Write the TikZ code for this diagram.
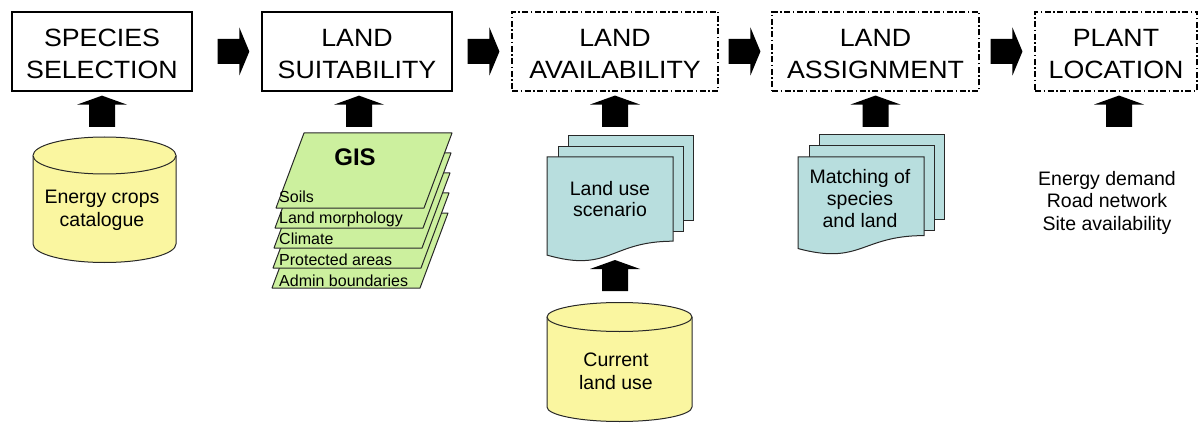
\documentclass[tikz,border=0pt]{standalone}
\usepackage{fontspec}
\setmainfont{Liberation Sans}
\newfontfamily\titlefont[FakeStretch=1.07]{Liberation Sans}
\usetikzlibrary{calc}

\definecolor{cylfill}{RGB}{250,246,160}
\definecolor{gisfill}{RGB}{204,240,158}
\definecolor{docfill}{RGB}{184,222,222}
\definecolor{shapeline}{RGB}{40,40,40}

% block arrow pointing up: #1 = bottom point, #2 = tip point (x of tip used)
\newcommand{\blkup}[2]{\fill[black] let \p1=#1, \p2=#2 in
  (\x2-13pt,\y1) -- (\x2+13pt,\y1) -- (\x2+13pt,\y2-9pt) -- (\x2+25pt,\y2-9pt)
  -- (\x2,\y2) -- (\x2-25pt,\y2-9pt) -- (\x2-13pt,\y2-9pt) -- cycle;}
% block arrow pointing right: #1 = start point, #2 = tip point
\newcommand{\blkright}[2]{\fill[black] let \p1=#1, \p2=#2 in
  (\x1,\y2+12.5pt) -- (\x2-10pt,\y2+12.5pt) -- (\x2-10pt,\y2+24pt) -- (\x2,\y2)
  -- (\x2-10pt,\y2-24pt) -- (\x2-10pt,\y2-12.5pt) -- (\x1,\y2-12.5pt) -- cycle;}
% cylinder: cx, top ellipse centre y, bottom ellipse centre y, rx, ry
\newcommand{\cylshape}[5]{%
  \filldraw[cylstyle] (#1-#4,#2) -- (#1-#4,#3)
    arc[start angle=180,end angle=360,x radius=#4pt,y radius=#5pt]
    -- (#1+#4,#2) arc[start angle=0,end angle=180,x radius=#4pt,y radius=#5pt] -- cycle;
  \draw[cylstyle] (#1-#4,#2) arc[start angle=180,end angle=360,x radius=#4pt,y radius=#5pt];}
% back page: x1, x2, ytop, ybottom
\newcommand{\docback}[4]{\filldraw[docstyle] (#1,#3) rectangle (#2,#4);}
% front page with wavy bottom: x1, x2, ytop, h
\newcommand{\docfront}[4]{\filldraw[docstyle] (#1,#3) -- (#2,#3) -- (#2,#3+0.802*#4)
  .. controls ({(#1+#2)/2},#3+0.802*#4) and ({(#1+#2)/2},#3+1.107*#4) .. (#1,#3+0.934*#4) -- cycle;}
% GIS layer shifted left by #1 and down by #2
\newcommand{\gislayer}[2]{\filldraw[gisstyle] (304-#1,133+#2) -- (452-#1,133+#2)
  -- (424-#1,208+#2) -- (276-#1,208+#2) -- cycle;}

\begin{document}
\begin{tikzpicture}[x=1pt,y=-1pt,
  titlebox/.style={draw=black, line width=1.3pt, minimum height=79, inner sep=0},
  dashbox/.style={titlebox, line width=1.1pt, dash pattern=on 6pt off 2.5pt on 1.5pt off 2.5pt},
  titletext/.style={font=\titlefont\fontsize{25}{32}\selectfont, align=center, anchor=north, inner sep=0},
  bodytext/.style={font=\fontsize{19.5}{23}\selectfont, align=center, anchor=north, inner sep=0},
  layertext/.style={font=\fontsize{16}{16}\selectfont, anchor=base west, inner sep=0},
  area/.style={inner sep=0, outer sep=0},
  cylstyle/.style={draw=shapeline, fill=cylfill, line width=1pt},
  docstyle/.style={draw=shapeline, fill=docfill, line width=1pt},
  gisstyle/.style={draw=shapeline, fill=gisfill, line width=1pt, line join=round},
]
\useasboundingbox (0,0) rectangle (1200,425);

% ---- top row boxes
\node[titlebox, minimum width=180] (b1) at (102,51.5) {};
\node[titlebox, minimum width=190] (b2) at (357,51.5) {};
\node[dashbox, minimum width=206] (b3) at (615,51.5) {};
\node[dashbox, minimum width=207] (b4) at (875.5,51.5) {};
\node[dashbox, minimum width=162] (b5) at (1116,51.5) {};
\node[titletext] (t1) at (102,29) {SPECIES\\SELECTION};
\node[titletext] (t2) at (357,29) {LAND\\SUITABILITY};
\node[titletext] (t3) at (615,29) {LAND\\AVAILABILITY};
\node[titletext] (t4) at (875.5,29) {LAND\\ASSIGNMENT};
\node[titletext] (t5) at (1116,29) {PLANT\\LOCATION};

% ---- cylinders
\cylshape{104.5}{155.5}{244}{71.5}{18.5}
\node[area, minimum width=143, minimum height=125] (c1) at (104.5,199.5) {};
\node[bodytext] (tc1) at (102,190) {Energy crops\\catalogue};

\cylshape{619.5}{317}{407}{72.5}{14.5}
\node[area, minimum width=145, minimum height=119] (c2) at (619.5,362) {};
\node[bodytext] (tc2) at (616,353) {Current\\land use};

% ---- GIS layers
\gislayer{4}{80}
\gislayer{3}{60}
\gislayer{2}{40}
\gislayer{1}{20}
\gislayer{0}{0}
\node[area, minimum width=180, minimum height=155] (g1) at (362,210.5) {};
\node[font=\bfseries\fontsize{24}{24}\selectfont, anchor=base, inner sep=0] (gis) at (355,165.5) {GIS};
\node[layertext] (l1) at (279,203) {Soils};
\node[layertext] (l2) at (279,223) {Land morphology};
\node[layertext] (l3) at (279,244) {Climate};
\node[layertext] (l4) at (279,265) {Protected areas};
\node[layertext] (l5) at (279,286) {Admin boundaries};

% ---- document stacks
\docback{568}{693}{136}{220}
\docback{558}{683}{147}{231}
\docfront{547}{673}{157}{105}
\node[area, minimum width=146, minimum height=127] (d1) at (620,199.5) {};
\node[bodytext, font=\fontsize{19.5}{21}\selectfont] (td1) at (610,181) {Land use\\scenario};

\docback{819}{944}{135}{219}
\docback{809}{934}{146}{230}
\docfront{798}{924}{157}{98}
\node[area, minimum width=146, minimum height=120] (d2) at (871,195) {};
\node[bodytext, font=\fontsize{19.5}{22}\selectfont] (td2) at (860,169) {Matching of\\species\\and land};

% ---- plant location inputs
\node[bodytext, font=\fontsize{19.5}{22.5}\selectfont] (p5) at (1107,171) {Energy demand\\Road network\\Site availability};

% ---- block arrows (right)
\blkright{($(b1.east)+(25,0)$)}{($(b2.west)+(-12,0)$)}
\blkright{($(b2.east)+(15,0)$)}{($(b3.west)+(-12,0)$)}
\blkright{($(b3.east)+(10,0)$)}{($(b4.west)+(-11,0)$)}
\blkright{($(b4.east)+(11,0)$)}{($(b5.west)+(-12,0)$)}

% ---- block arrows (up)
\blkup{($(c1.north)+(0,-10)$)}{($(b1.south)+(0,4)$)}
\blkup{($(g1.north)+(0,-6)$)}{($(b2.south)+(2,4)$)}
\blkup{($(d1.north)+(0,-9)$)}{($(b3.south)+(0,4)$)}
\blkup{($(c2.north)+(0,-11.5)$)}{($(d1.south)+(-5,-3)$)}
\blkup{($(d2.north)+(0,-8)$)}{($(b4.south)+(0,4)$)}
\blkup{($(p5.north)+(0,-44)$)}{($(b5.south)+(3,4)$)}
\end{tikzpicture}
\end{document}
